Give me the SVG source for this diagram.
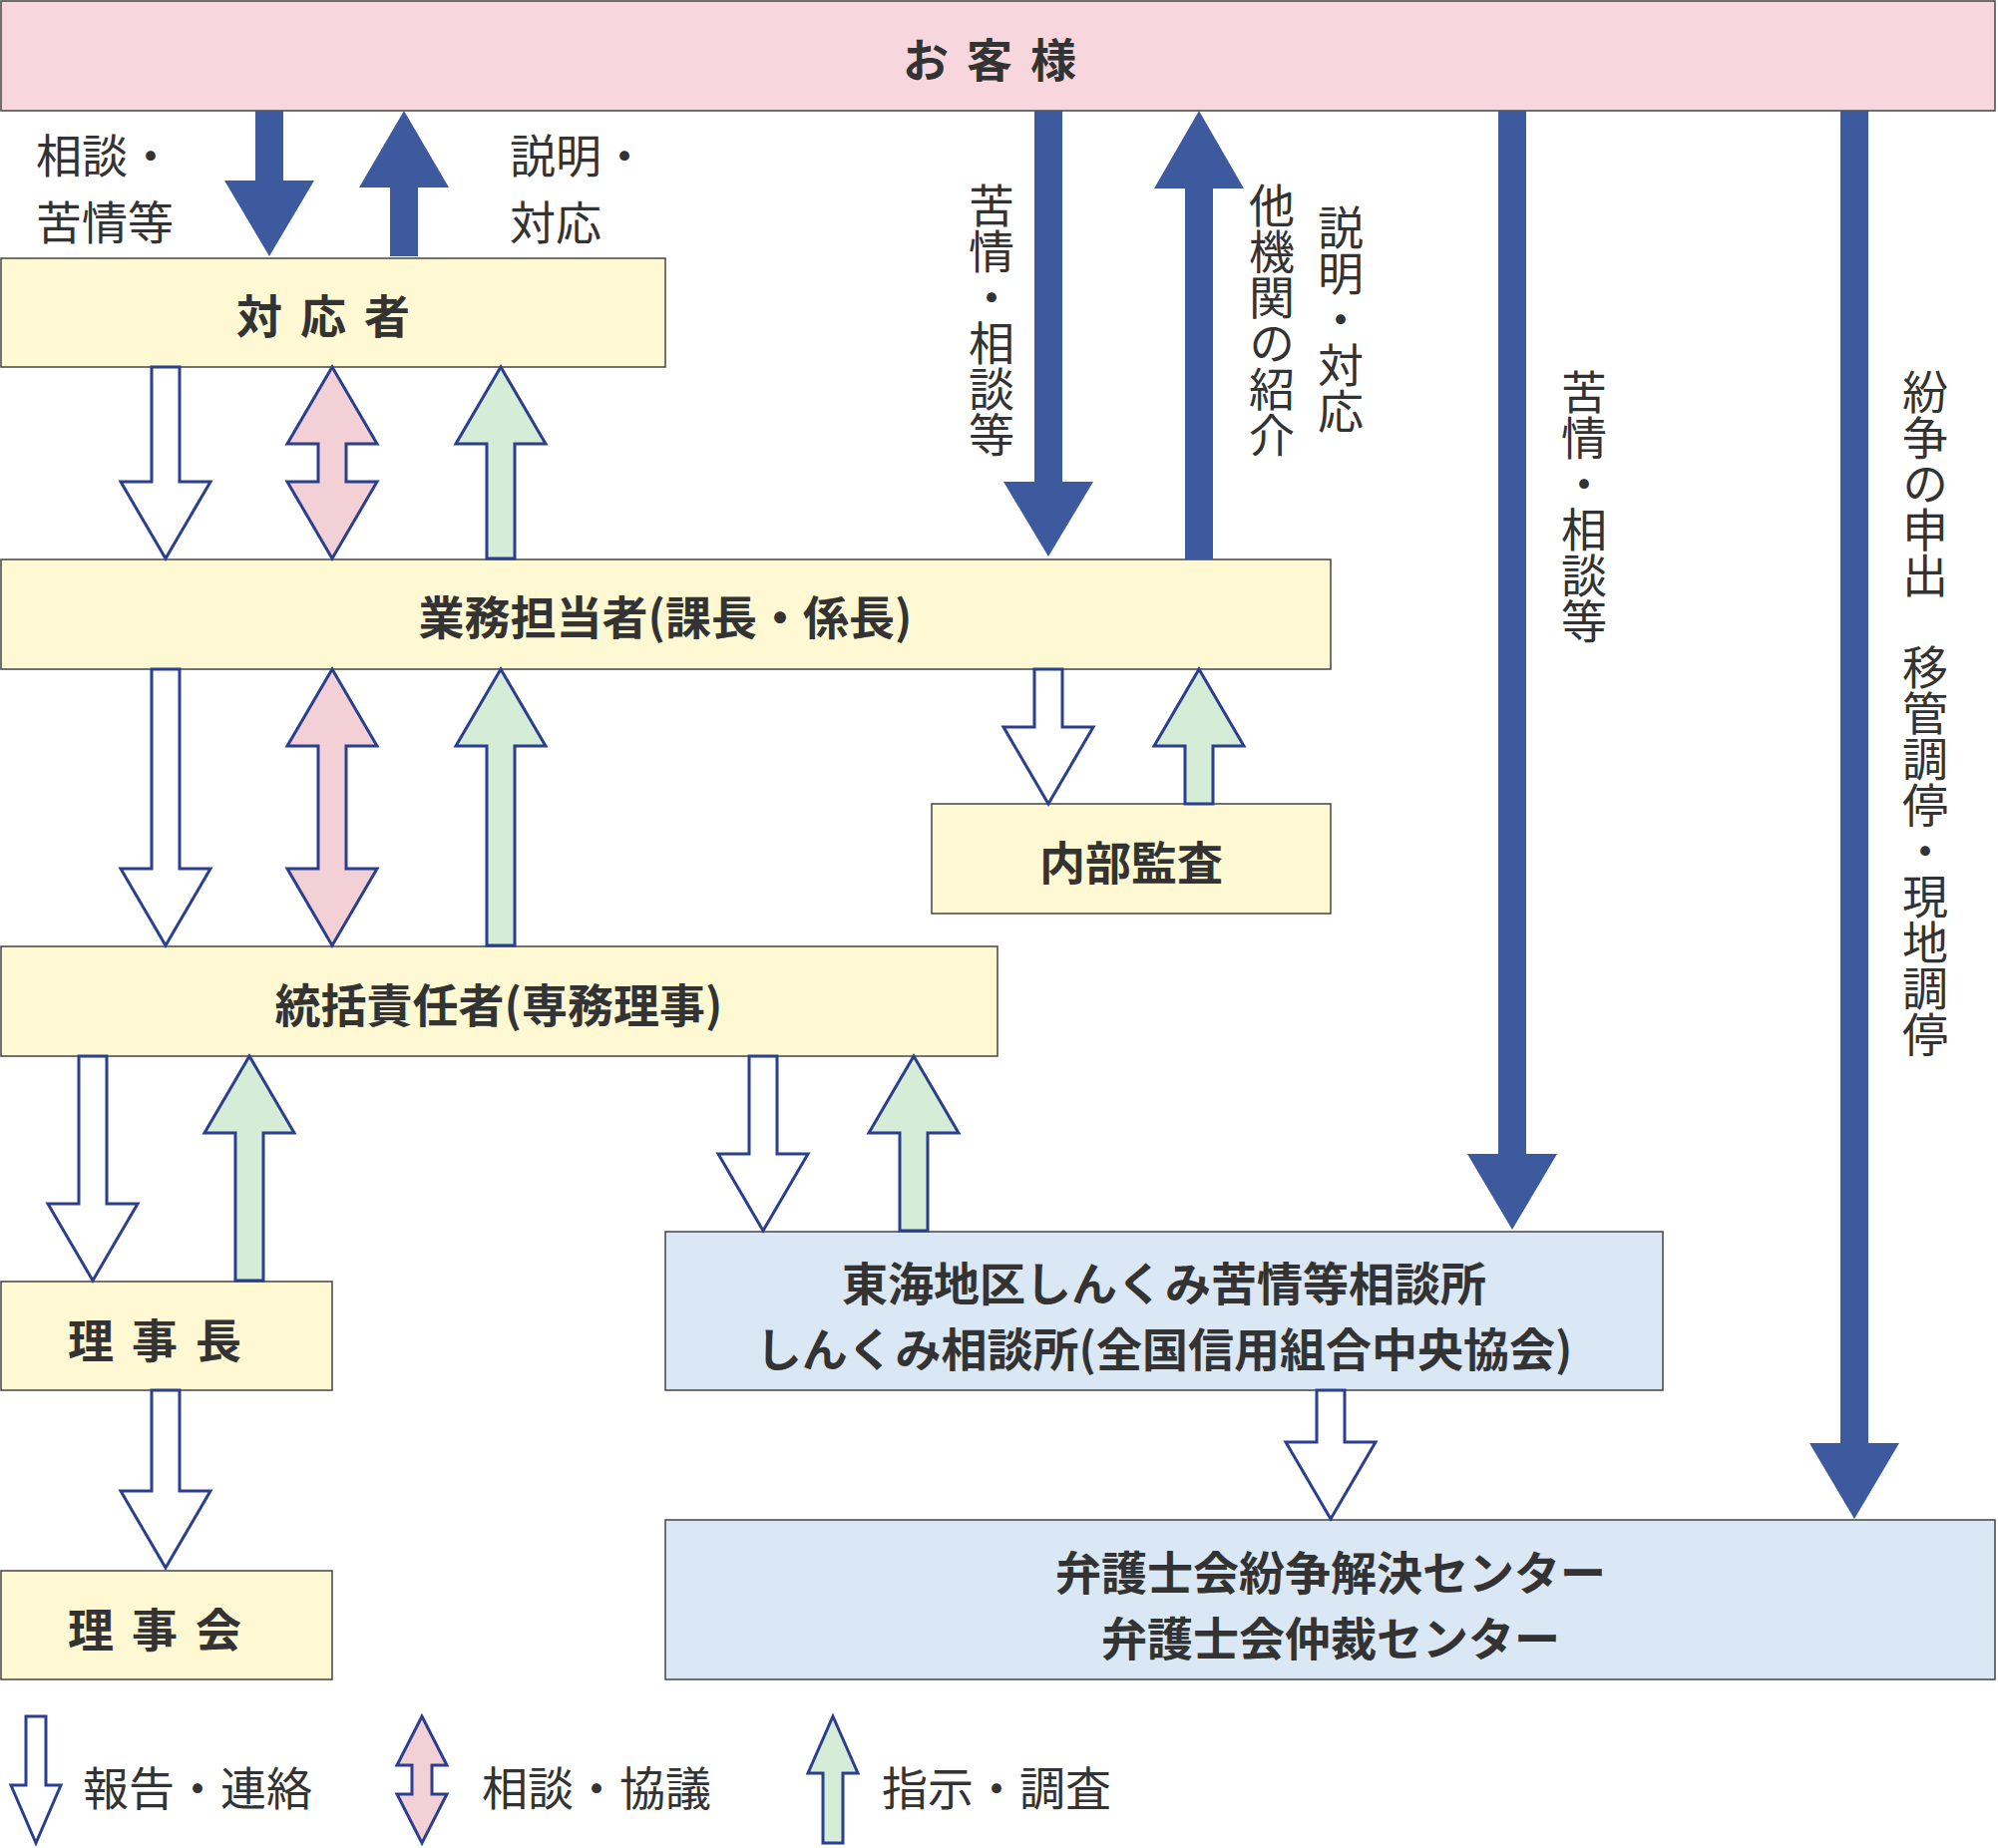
<svg xmlns="http://www.w3.org/2000/svg" width="2003" height="1853" viewBox="0 0 2003 1853">
<style>
text{font-family:"Noto Sans CJK JP","Noto Sans",sans-serif;fill:#333;}
.n{font-size:46px;font-weight:bold;text-anchor:middle;dominant-baseline:central;}
.l{font-size:46px;dominant-baseline:central;}
.v{font-size:46px;writing-mode:vertical-rl;}
.bp{fill:#f7d7dd;stroke:#444;stroke-width:1.5}
.by{fill:#fef9d3;stroke:#444;stroke-width:1.5}
.bb{fill:#d9e8f4;stroke:#444;stroke-width:1.5}
.s{fill:#3d5a9e;}
.w{fill:#fff;stroke:#2b3f8f;stroke-width:3;stroke-linejoin:miter}
.p{fill:#f2d0d6;stroke:#2b3f8f;stroke-width:3}
.g{fill:#d5ecd6;stroke:#2b3f8f;stroke-width:3}
</style>
<g id="customer"><rect class="bp" x="1" y="1" width="1999" height="110"/><text class="n" x="1001" y="57" letter-spacing="18">お客様</text></g>
<g id="taiousha"><rect class="by" x="1" y="259" width="666" height="109"/><text class="n" x="333" y="314" letter-spacing="18">対応者</text></g>
<g id="gyomu"><rect class="by" x="1" y="561" width="1333" height="110"/><text class="n" x="667" y="616">業務担当者(課長・係長)</text></g>
<g id="naibu"><rect class="by" x="934" y="806" width="400" height="110"/><text class="n" x="1134" y="862">内部監査</text></g>
<g id="toukatsu"><rect class="by" x="1" y="949" width="999" height="110"/><text class="n" x="500" y="1005">統括責任者(専務理事)</text></g>
<g id="rijicho"><rect class="by" x="1" y="1285" width="332" height="109"/><text class="n" x="164" y="1341" letter-spacing="18">理事長</text></g>
<g id="rijikai"><rect class="by" x="1" y="1575" width="332" height="109"/><text class="n" x="164" y="1631" letter-spacing="18">理事会</text></g>
<g id="tokai"><rect class="bb" x="667" y="1235" width="1000" height="159"/><text class="n" x="1167" y="1284">東海地区しんくみ苦情等相談所</text><text class="n" x="1167" y="1350">しんくみ相談所(全国信用組合中央協会)</text></g>
<g id="bengoshi"><rect class="bb" x="667" y="1524" width="1333" height="160"/><text class="n" x="1334" y="1574">弁護士会紛争解決センター</text><text class="n" x="1334" y="1640">弁護士会仲裁センター</text></g>
<g id="connectors">
<polygon class="s" points="256,111 284,111 284,181 315,181 270,257 225,181 256,181"/>
<polygon class="s" points="405,111 450,188 419,188 419,257 391,257 391,188 360,188"/>
<polygon class="s" points="1037,111 1065,111 1065,483 1096,483 1051,558 1006,483 1037,483"/>
<polygon class="s" points="1202,111 1247,189 1216,189 1216,561 1188,561 1188,189 1157,189"/>
<polygon class="s" points="1502,111 1530,111 1530,1157 1561,1157 1516,1233 1471,1157 1502,1157"/>
<polygon class="s" points="1845,111 1873,111 1873,1447 1904,1447 1859,1523 1814,1447 1845,1447"/>
<polygon class="w" points="152,368 180,368 180,483 211,483 166,560 121,483 152,483"/>
<polygon class="p" points="333,368 378,445 347,445 347,483 378,483 333,560 288,483 319,483 319,445 288,445"/>
<polygon class="g" points="502,368 547,445 516,445 516,560 488,560 488,445 457,445"/>
<polygon class="w" points="152,671 180,671 180,871 211,871 166,948 121,871 152,871"/>
<polygon class="p" points="333,671 378,748 347,748 347,871 378,871 333,948 288,871 319,871 319,748 288,748"/>
<polygon class="g" points="502,671 547,748 516,748 516,948 488,948 488,748 457,748"/>
<polygon class="w" points="1037,671 1065,671 1065,729 1096,729 1051,806 1006,729 1037,729"/>
<polygon class="g" points="1202,671 1247,748 1216,748 1216,806 1188,806 1188,748 1157,748"/>
<polygon class="w" points="79,1059 107,1059 107,1207 138,1207 93,1284 48,1207 79,1207"/>
<polygon class="g" points="250,1059 295,1136 264,1136 264,1284 236,1284 236,1136 205,1136"/>
<polygon class="w" points="751,1059 779,1059 779,1157 810,1157 765,1234 720,1157 751,1157"/>
<polygon class="g" points="916,1059 961,1136 930,1136 930,1234 902,1234 902,1136 871,1136"/>
<polygon class="w" points="152,1394 180,1394 180,1495 211,1495 166,1572 121,1495 152,1495"/>
<polygon class="w" points="1320,1394 1348,1394 1348,1446 1379,1446 1334,1523 1289,1446 1320,1446"/>
</g>
<g id="labels">
<text class="l" x="36" y="153">相談・</text><text class="l" x="36" y="220">苦情等</text>
<text class="l" x="511" y="153">説明・</text><text class="l" x="511" y="220">対応</text>
<text class="v" x="994" y="183">苦情・相談等</text>
<text class="v" x="1275" y="183">他機関の紹介</text>
<text class="v" x="1344" y="205">説明・対応</text>
<text class="v" x="1588" y="370">苦情・相談等</text>
<text class="v" x="1930" y="370">紛争の申出　移管調停・現地調停</text>
</g>
<g id="legend">
<polygon class="w" points="26,1721 46,1721 46,1790 61,1790 36,1848 11,1790 26,1790"/>
<text class="l" x="83" y="1790">報告・連絡</text>
<polygon class="p" points="423,1721 448,1770 433,1770 433,1799 448,1799 423,1848 398,1799 413,1799 413,1770 398,1770"/>
<text class="l" x="483" y="1790">相談・協議</text>
<polygon class="g" points="835,1721 860,1778 845,1778 845,1848 825,1848 825,1778 810,1778"/>
<text class="l" x="884" y="1790">指示・調査</text>
</g>
</svg>
